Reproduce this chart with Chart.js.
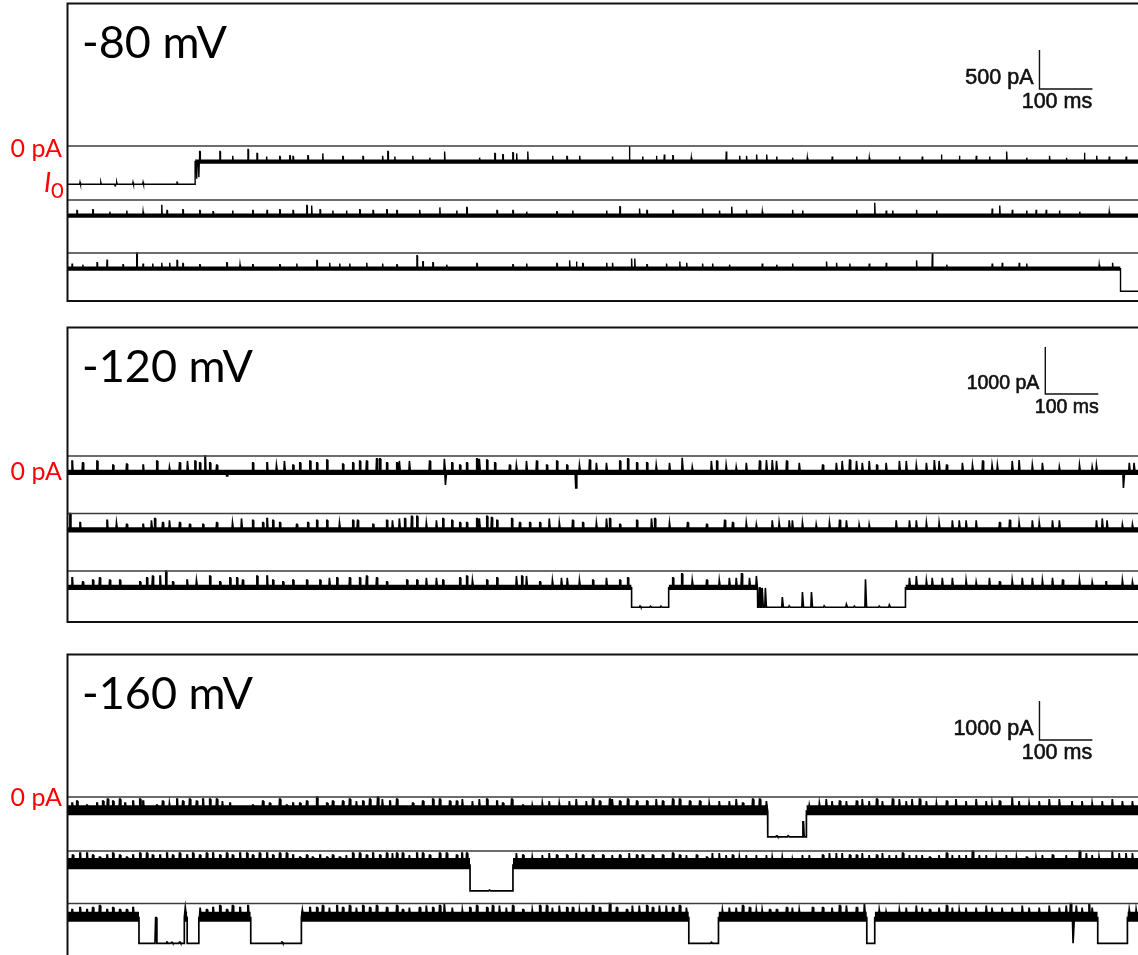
<!DOCTYPE html>
<html>
<head>
<meta charset="utf-8">
<title>Single-channel current traces</title>
<script src="https://cdn.jsdelivr.net/npm/chart.js@4.4.1/dist/chart.umd.min.js"></script>
<style>
  html, body { margin: 0; padding: 0; background: #fff; width: 1138px; height: 955px; overflow: hidden; }
  canvas.panel { position: absolute; left: 0; }
</style>
</head>
<body>
<canvas id="c80" class="panel"></canvas>
<canvas id="c120" class="panel"></canvas>
<canvas id="c160" class="panel"></canvas>
<script>
// ---------------------------------------------------------------
// Recorded sweeps: time in ms, current in pA.
// Segments are [start, end, level]; events are [time, peak current].
// ---------------------------------------------------------------
const voltages = ['-80 mV', '-120 mV', '-160 mV'];
const barCurrent = [500, 1000, 1000];   // pA
const barTime = [100, 100, 100];        // ms
const openPore = [-490, -770, -1020];   // I0 at each voltage, pA

// ----- -80 mV -----
const seg80a = [[0, 240, -490], [240, 2020, -200]];
const spk80a = [[23,-465],[62,-465],[89,-510],[92,-465],[123,-465],[142,-465],[206,-465],
  [243,-420],[247,-400],[249,-70],[287,-70],[311,-125],[340,-45],[357,-95],[375,-135],[400,-135],[419,-125],[425,-135],
  [453,-125],[481,-95],[519,-135],[557,-135],[594,-125],[604,-70],[617,-135],[651,-125],[683,-150],[711,-70],
  [777,-150],[806,-95],[821,-110],[840,-85],[847,-95],[868,-70],[915,-125],[942,-135],[966,-125],[1028,-135],
  [1060,0],[1085,-135],[1111,-125],[1126,-110],[1142,-125],[1177,-150],[1243,-70],[1268,-125],[1281,-125],
  [1300,-110],[1319,-110],[1338,-135],[1368,-150],[1396,-150],[1443,-135],[1489,-135],[1513,-150],[1570,-135],
  [1613,-135],[1649,-110],[1683,-125],[1715,-125],[1740,-135],[1772,-70],[1810,-150],[1853,-125],[1885,-150],
  [1919,-85],[1942,-125],[1966,-135],[1998,-135]];
const seg80b = [[0, 2020, -200]];
const spk80b = [[17,-135],[47,-125],[79,-150],[111,-135],[142,-150],[177,-60],[187,-135],[217,-125],[249,-135],
  [274,-150],[311,-135],[349,-135],[376,-125],[400,-125],[425,-135],[451,-70],[460,-70],[476,-125],[500,-135],
  [526,-135],[551,-125],[576,-135],[602,-125],[621,-135],[664,-125],[702,-95],[734,-135],[753,-95],[810,-135],
  [840,-135],[866,-150],[923,-150],[953,-135],[1017,-135],[1042,-85],[1079,-110],[1093,-135],[1142,-135],
  [1198,-110],[1230,-135],[1253,-85],[1281,-125],[1311,-150],[1368,-125],[1387,-135],[1489,-125],[1523,-35],
  [1545,-135],[1557,-135],[1602,-125],[1640,-135],[1745,-110],[1759,-70],[1783,-125],[1810,-135],[1828,-125],
  [1847,-125],[1872,-135],[1910,-150],[1966,-150]];
const seg80c = [[0, 1987, -200], [1987, 2020, -490]];
const spk80c = [[8,-135],[28,-150],[55,-125],[74,-85],[104,-150],[130,0],[142,-135],[160,-135],[177,-125],
  [192,-125],[206,-95],[217,-135],[249,-150],[300,-125],[325,-150],[349,-150],[400,-150],[432,-135],[470,-95],
  [494,-125],[513,-135],[532,-135],[564,-125],[594,-135],[621,-150],[659,-35],[670,-110],[689,-125],[715,-150],
  [772,-135],[840,-150],[866,-135],[923,-135],[947,-95],[960,-110],[972,-135],[1017,-125],[1028,-125],[1064,-70],
  [1070,-70],[1093,-150],[1130,-135],[1155,-110],[1168,-125],[1198,-135],[1217,-135],[1249,-150],[1311,-135],
  [1338,-150],[1368,-135],[1432,-110],[1451,-125],[1476,-135],[1513,-135],[1545,-125],[1602,-95],[1632,0],
  [1659,-150],[1745,-135],[1764,-125],[1796,-125],[1810,-135],[1947,-150],[1972,-125]];
const noise80 = [[26, 26], [26, 26], [26, 26]];   // noise band above / below level, pA

// ----- -120 mV -----
const seg120a = [[0, 2020, -360]];
const spk120a = [[8,-105],[28,-145],[55,-105],[85,-190],[111,-170],[142,-190],[168,-105],[192,-230],[211,-145],
  [226,-105],[240,-105],[249,-145],[259,0],[268,-145],[281,-190],[300,-425],[349,-145],[376,-145],[394,-190],
  [409,-105],[425,-190],[438,-145],[457,-105],[470,-145],[489,-85],[519,-170],[538,-145],[551,-105],[564,-105],
  [583,-60],[589,-60],[602,-145],[621,-145],[626,-105],[645,-105],[683,-105],[711,-60],[713,-615],[725,-145],
  [740,-190],[753,-145],[772,-60],[777,-60],[791,-85],[806,-145],[834,-190],[847,-190],[866,-105],[885,-105],
  [904,-190],[923,-105],[942,-190],[959,-680],[966,-190],[985,-85],[998,-145],[1017,-145],[1042,-105],[1057,-60],
  [1074,-145],[1093,-145],[1111,-190],[1136,-145],[1160,-40],[1179,-230],[1215,-105],[1225,-105],[1243,-190],
  [1262,-230],[1281,-145],[1306,-105],[1319,-85],[1330,-85],[1338,-105],[1357,-105],[1381,-145],[1425,-190],
  [1451,-145],[1462,-105],[1476,-85],[1489,-105],[1500,-145],[1513,-105],[1527,-190],[1545,-145],[1570,-105],
  [1583,-105],[1602,-190],[1621,-145],[1636,-85],[1645,-105],[1659,-190],[1689,-145],[1708,-190],[1727,-105],
  [1745,-190],[1755,-190],[1783,-105],[1796,-85],[1821,-190],[1840,-145],[1872,-230],[1910,-190],[1934,-230],
  [1942,-190],[1993,-680],[2004,-145],[2013,-145]];
const seg120b = [[0, 2020, -360]];
const spk120b = [[4,0],[23,-190],[74,-145],[92,-190],[111,-230],[142,-230],[158,-145],[164,-105],[179,-190],
  [192,-145],[211,-190],[230,-230],[255,-230],[281,-190],[311,-190],[328,-105],[349,-145],[368,-190],[376,-105],
  [387,-145],[400,-190],[432,-230],[453,-190],[470,-145],[489,-145],[513,-190],[538,-145],[547,-145],[576,-230],
  [602,-145],[613,-145],[626,-105],[636,-105],[649,-60],[659,-60],[677,-190],[696,-145],[708,-105],[725,-145],
  [740,-190],[753,-190],[772,-105],[777,-105],[791,-60],[800,-85],[810,-145],[838,-105],[853,-190],[872,-190],
  [891,-190],[909,-105],[928,-190],[953,-145],[972,-190],[998,-190],[1017,-105],[1023,-105],[1042,-230],
  [1074,-145],[1102,-105],[1108,-105],[1136,-190],[1170,-190],[1206,-230],[1240,-145],[1255,-190],[1281,-190],
  [1300,-230],[1330,-145],[1343,-190],[1362,-145],[1368,-145],[1387,-190],[1413,-230],[1438,-190],[1457,-145],
  [1470,-145],[1494,-230],[1513,-230],[1564,-145],[1589,-145],[1602,-145],[1621,-190],[1645,-190],[1670,-145],
  [1683,-145],[1696,-145],[1715,-145],[1759,-190],[1778,-145],[1796,-190],[1821,-145],[1834,-190],[1859,-145],
  [1872,-145],[1942,-145],[1953,-105],[1962,-145],[1991,-230],[2010,-230]];
const seg120c = [[0, 1064, -360], [1064, 1134, -770], [1134, 1302, -360], [1302, 1581, -770], [1581, 2020, -360]];
const spk120c = [[8,-145],[28,-230],[47,-190],[60,-145],[79,-190],[98,-190],[136,-230],[149,-145],[160,-105],
  [174,-105],[185,0],[198,-230],[225,-190],[243,-190],[268,-105],[287,-230],[306,-145],[319,-145],[330,-190],
  [357,-105],[376,-105],[387,-190],[406,-230],[425,-190],[451,-190],[476,-190],[494,-145],[508,-145],[532,-145],
  [551,-145],[564,-105],[583,-145],[602,-230],[640,-190],[659,-190],[677,-145],[696,-145],[708,-190],[740,-145],
  [753,-105],[764,-190],[791,-190],[810,-145],[847,-105],[857,-105],[866,-105],[891,-230],[915,-190],[932,-145],
  [943,-145],[966,-190],[991,-190],[1017,-145],[1042,-190],[1057,-145],[1080,-745],[1100,-750],[1120,-745],
  [1142,-145],[1159,-60],[1179,-190],[1206,-190],[1230,-190],[1249,-145],[1262,-145],[1272,-60],[1287,-145],
  [1300,-105],[1306,-360],[1311,-360],[1317,-360],[1349,-555],[1362,-740],[1387,-450],[1404,-450],[1428,-740],
  [1470,-705],[1485,-745],[1506,-175],[1532,-745],[1551,-720],[1589,-145],[1602,-105],[1621,-190],[1632,-145],
  [1651,-145],[1670,-145],[1696,-190],[1715,-230],[1740,-145],[1759,-230],[1783,-190],[1802,-145],[1821,-145],
  [1840,-190],[1859,-145],[1878,-190],[1910,-190],[1934,-230],[1960,-230],[1991,-190],[2010,-230]];
const noise120 = [[70, 45], [70, 45], [70, 45]];

// ----- -160 mV -----
const seg160a = [[0, 1321, -360], [1321, 1394, -1020], [1394, 2020, -360]];
const spk160a = [[8,-155],[17,-105],[36,-205],[55,-155],[66,-105],[75,-55],[85,-105],[98,-55],[108,-155],
  [123,-105],[136,-55],[142,-105],[168,-205],[179,-105],[192,-155],[206,-55],[217,-105],[230,-55],[243,-105],
  [255,-55],[268,-55],[281,-55],[292,-105],[306,-155],[325,-255],[349,-205],[368,-105],[381,-155],[400,-55],
  [413,-205],[425,-155],[438,-155],[451,-105],[470,0],[489,-155],[500,-105],[519,-105],[532,-55],[545,-105],
  [557,-105],[570,-55],[585,0],[594,-55],[608,-105],[621,-55],[651,-155],[670,-105],[689,-55],[702,-55],
  [721,-105],[734,-105],[745,-55],[764,-105],[777,-55],[791,-55],[810,-105],[821,-155],[838,-55],[859,-205],
  [877,-205],[896,-155],[909,-105],[928,-155],[947,-105],[960,-55],[979,-105],[991,-55],[1004,-105],[1023,-55],
  [1028,-55],[1042,-105],[1057,-55],[1074,-105],[1093,-105],[1111,-55],[1123,-105],[1142,-55],[1155,-55],
  [1174,-105],[1193,-105],[1211,-155],[1230,-105],[1249,-105],[1262,-55],[1274,-155],[1293,-55],[1306,-55],
  [1319,-105],[1338,-995],[1360,-995],[1388,-640],[1400,-205],[1419,-155],[1432,-55],[1443,-105],[1457,-105],
  [1470,-105],[1489,-105],[1500,-55],[1513,-105],[1527,-55],[1538,-105],[1557,-55],[1570,-55],[1583,-105],
  [1594,-55],[1608,-55],[1621,-105],[1640,-155],[1659,-105],[1677,-55],[1696,-105],[1715,-55],[1734,-105],
  [1745,-155],[1759,-105],[1783,0],[1796,-105],[1815,-155],[1834,-105],[1853,-55],[1872,-55],[1896,-105],
  [1915,-105],[1934,-155],[1953,-105],[1972,-55],[1991,-105],[2010,-105]];
const seg160b = [[0, 759, -360], [759, 840, -1020], [840, 2020, -360]];
const spk160b = [[9,-105],[23,-55],[36,-55],[47,-105],[60,-155],[74,-105],[85,-55],[98,-105],[111,-155],
  [123,-105],[136,-55],[149,-55],[160,-105],[174,-105],[187,-55],[198,-105],[211,-55],[225,-105],[236,-55],
  [249,-105],[262,-55],[274,-55],[287,-105],[300,-55],[311,-105],[325,-55],[338,-55],[349,-105],[362,-55],
  [376,-55],[387,-105],[400,-55],[413,-55],[425,-105],[438,-155],[451,-105],[462,-155],[476,-105],[489,-155],
  [500,-105],[513,-155],[526,-105],[538,-55],[551,-55],[564,-105],[576,-55],[589,-105],[602,-55],[613,-55],
  [621,-55],[632,-55],[645,-105],[659,-55],[670,-55],[683,-105],[702,-55],[715,-55],[734,-105],[744,-55],
  [753,-55],[796,-1000],[847,-55],[859,-105],[877,-155],[896,-105],[909,-55],[923,-105],[942,-105],[960,-55],
  [972,-105],[991,-105],[1010,-105],[1028,-105],[1042,-105],[1060,-55],[1074,-105],[1085,-105],[1104,-105],
  [1123,-105],[1142,-55],[1155,-105],[1168,-105],[1187,-105],[1206,-155],[1217,-55],[1230,-55],[1243,-105],
  [1255,-105],[1268,-155],[1281,-105],[1300,-105],[1319,-105],[1330,-155],[1349,-155],[1368,-205],[1387,-105],
  [1400,-105],[1425,-105],[1438,-55],[1451,-55],[1462,-55],[1476,-105],[1489,-105],[1500,-55],[1513,-105],
  [1527,-105],[1538,-55],[1551,-105],[1564,-105],[1576,-55],[1589,-105],[1602,-105],[1613,-105],[1627,-155],
  [1645,-105],[1659,-55],[1670,-105],[1683,-105],[1696,-105],[1708,0],[1721,-105],[1734,-105],[1753,-155],
  [1772,-105],[1791,-155],[1810,-155],[1828,-155],[1840,-105],[1859,-105],[1885,-105],[1910,0],[1923,-55],
  [1934,-105],[1947,-155],[1972,0],[1985,-55],[1998,-55],[2010,-55]];
const seg160c = [[0, 134, -360], [134, 219, -1020], [219, 225, -360], [225, 247, -1020], [247, 345, -360],
  [345, 440, -1020], [440, 1172, -360], [1172, 1228, -1020], [1228, 1508, -360], [1508, 1523, -1020],
  [1523, 1944, -360], [1944, 2000, -1020], [2000, 2020, -360]];
const spk160c = [[8,-155],[23,-105],[36,-155],[47,-105],[60,-55],[74,-155],[85,-105],[98,-155],[111,-155],
  [123,-105],[166,-360],[187,-990],[196,-995],[211,-990],[222,-100],[250,-105],[262,-155],[274,-105],[287,-55],
  [300,-155],[311,-55],[325,-105],[340,-55],[404,-990],[443,-155],[457,-105],[470,-105],[481,-55],[494,-105],
  [508,-55],[519,-105],[532,-55],[545,-105],[557,-55],[570,-105],[583,-55],[602,-105],[621,-55],[632,-155],
  [645,-105],[664,-105],[677,-55],[689,-105],[702,-55],[711,0],[726,-105],[745,-155],[759,-105],[772,-55],
  [791,-105],[802,-55],[815,-55],[828,-105],[840,-55],[859,-155],[877,-155],[891,-55],[904,-55],[915,-105],
  [928,-55],[942,-105],[953,-105],[966,-155],[979,-105],[991,-55],[1004,-105],[1023,0],[1036,-105],[1055,-155],
  [1066,-55],[1079,-55],[1093,-55],[1104,-105],[1117,-55],[1130,-55],[1142,-105],[1155,-55],[1168,-105],
  [1215,-995],[1236,-155],[1249,-105],[1262,-105],[1274,-55],[1287,-105],[1300,-155],[1311,-155],[1325,-155],
  [1338,-155],[1357,-105],[1368,-105],[1381,-155],[1406,-105],[1425,-105],[1443,-105],[1457,-55],[1470,-55],
  [1489,-105],[1504,0],[1532,-155],[1545,-205],[1570,-155],[1583,-105],[1602,-55],[1613,-105],[1627,-155],
  [1645,-105],[1659,-55],[1670,-105],[1683,-155],[1696,-105],[1715,-105],[1734,-55],[1745,-105],[1764,-105],
  [1783,-105],[1802,-55],[1815,-105],[1834,-105],[1853,-55],[1872,-105],[1885,-55],[1893,0],[1898,-1020],
  [1904,-55],[1915,-105],[1928,-30],[1934,-105],[2004,-155],[2017,-155]];
const noise160 = [[150, 110], [180, 110], [150, 110]];

// ---------------------------------------------------------------
// Page layout (pixels)
// ---------------------------------------------------------------
const X_MAX = 2020; // ms shown across each sweep
const panels = [
  { canvas: 'c80', title: voltages[0], i0: openPore[0], noise: noise80,
    traces: [[seg80a, spk80a], [seg80b, spk80b], [seg80c, spk80c]],
    canvasTop: 0, canvasH: 312, boxTop: 3, boxBottom: 301, closed: true,
    pAperPx: 500 / 39, rowsPx: [146, 200, 253], lineW: 1.4, needle: 0.9,
    bar: { pA: barCurrent[0], ms: barTime[0], t: 1834, i: 730, font: 21.5, msDx: -9 },
    zeroDy: 10.5, showI0: true },
  { canvas: 'c120', title: voltages[1], i0: openPore[1], noise: noise120,
    traces: [[seg120a, spk120a], [seg120b, spk120b], [seg120c, spk120c]],
    canvasTop: 314, canvasH: 316, boxTop: 327, boxBottom: 622, closed: true,
    pAperPx: 1000 / 47, rowsPx: [456, 513.5, 571], lineW: 1.6, needle: 1.6,
    bar: { pA: barCurrent[1], ms: barTime[1], t: 1845, i: 1319, font: 19.5, msDx: -5 },
    zeroDy: 23.5, showI0: false },
  { canvas: 'c160', title: voltages[2], i0: openPore[2], noise: noise160,
    traces: [[seg160a, spk160a], [seg160b, spk160b], [seg160c, spk160c]],
    canvasTop: 641, canvasH: 314, boxTop: 654, boxBottom: 955, closed: false,
    pAperPx: 1000 / 39, rowsPx: [797, 851, 903.5], lineW: 1.7, needle: 1.8,
    bar: { pA: barCurrent[2], ms: barTime[2], t: 1834, i: 1461, font: 21.5, msDx: -9 },
    zeroDy: 8.5, showI0: false }
];

// Polyline of one sweep: level segments joined by vertical steps, brief events as narrow pulses.
function sweepPoints(segs, spikes, off, w) {
  const ev = spikes.slice().sort((a, b) => a[0] - b[0]);
  const pts = [];
  for (const [t0, t1, lvl] of segs) {
    pts.push({ x: t0, y: lvl + off });
    for (const [t, peak] of ev) {
      if (t > t0 && t < t1) {
        pts.push({ x: t - w, y: lvl + off }, { x: t - w * 0.3, y: peak + off },
                 { x: t + w * 0.3, y: peak + off }, { x: t + w, y: lvl + off });
      }
    }
    pts.push({ x: t1, y: lvl + off });
  }
  return pts;
}

// Frame, voltage title, red current labels and the calibration bar.
const panelDecor = {
  id: 'panelDecor',
  afterDraw(chart, args, o) {
    const { ctx, chartArea: a } = chart;
    const xs = chart.scales.x, ys = chart.scales.y;
    ctx.save();
    ctx.strokeStyle = '#111';
    ctx.lineWidth = 2;
    ctx.beginPath();
    ctx.moveTo(a.right + 6, a.top + 0.5);
    ctx.lineTo(a.left - 0.5, a.top + 0.5);
    ctx.lineTo(a.left - 0.5, a.bottom + (o.closed ? 0 : 6));
    if (o.closed) ctx.lineTo(a.right + 6, a.bottom);
    ctx.stroke();

    ctx.fillStyle = '#000';
    ctx.textAlign = 'left';
    ctx.textBaseline = 'alphabetic';
    ctx.font = '45px Lato';
    ctx.fillText(o.title, 82, a.top + 55);

    const y0 = ys.getPixelForValue(0);
    ctx.fillStyle = '#ff0000';
    ctx.textAlign = 'right';
    ctx.font = '25px Lato';
    ctx.fillText('0 pA', 62, y0 + o.zeroDy);
    if (o.showI0) {
      const yi = ys.getPixelForValue(o.i0);
      ctx.textAlign = 'left';
      ctx.font = 'italic 27px Lato';
      ctx.fillText('I', 44, yi + 8);
      ctx.font = '22px Lato';
      ctx.fillText('0', 51, yi + 14);
    }

    const b = o.bar;
    const bx = xs.getPixelForValue(b.t), by = ys.getPixelForValue(b.i);
    const bTop = ys.getPixelForValue(b.i + b.pA), bRight = xs.getPixelForValue(b.t + b.ms);
    ctx.strokeStyle = '#111';
    ctx.lineWidth = 1.4;
    ctx.beginPath();
    ctx.moveTo(bx, bTop);
    ctx.lineTo(bx, by);
    ctx.lineTo(bRight, by);
    ctx.stroke();
    ctx.fillStyle = '#111';
    ctx.lineWidth = 0.6;
    ctx.font = b.font + 'px "Liberation Sans"';
    ctx.textAlign = 'right';
    ctx.fillText(b.pA + ' pA', bx - 6, by - 5);
    ctx.strokeText(b.pA + ' pA', bx - 6, by - 5);
    ctx.textAlign = 'center';
    ctx.fillText(b.ms + ' ms', (bx + bRight) / 2 + b.msDx, by + 19);
    ctx.strokeText(b.ms + ' ms', (bx + bRight) / 2 + b.msDx, by + 19);
    ctx.restore();
  }
};

for (const p of panels) {
  const cv = document.getElementById(p.canvas);
  cv.width = 1138;
  cv.height = p.canvasH;
  cv.style.top = p.canvasTop + 'px';
  const yMax = (p.rowsPx[0] - p.boxTop) * p.pAperPx;
  const yMin = yMax - (p.boxBottom - p.boxTop) * p.pAperPx;
  const offs = p.rowsPx.map(r => -(r - p.rowsPx[0]) * p.pAperPx);

  const datasets = [];
  p.traces.forEach(([segs, spikes], r) => {
    const off = offs[r];
    // zero-current reference
    datasets.push({ data: [{ x: 0, y: off }, { x: X_MAX, y: off }],
      borderColor: '#3c3c3c', borderWidth: 1.3, fill: false });
    // open-channel noise band on blocked-level stretches
    const [hi, lo] = p.noise[r];
    for (const [t0, t1, lvl] of segs) {
      if (lvl === p.i0) continue;
      datasets.push({ data: [{ x: t0, y: lvl + hi + off }, { x: t1, y: lvl + hi + off }],
        borderColor: 'transparent', borderWidth: 0, backgroundColor: '#000', fill: '+1' });
      datasets.push({ data: [{ x: t0, y: lvl - lo + off }, { x: t1, y: lvl - lo + off }],
        borderColor: 'transparent', borderWidth: 0, backgroundColor: 'transparent', fill: false });
    }
    // the sweep itself
    datasets.push({ data: sweepPoints(segs, spikes, off, p.needle), borderColor: '#000',
      borderWidth: p.lineW, fill: false });
  });

  new Chart(cv, {
    type: 'line',
    data: { datasets },
    options: {
      responsive: false,
      animation: false,
      devicePixelRatio: 1,
      events: [],
      layout: { padding: { left: 68, right: 0, top: p.boxTop - p.canvasTop,
                           bottom: p.canvasTop + p.canvasH - p.boxBottom } },
      scales: {
        x: { type: 'linear', min: 0, max: X_MAX, display: false },
        y: { type: 'linear', min: yMin, max: yMax, display: false }
      },
      elements: { point: { radius: 0 }, line: { tension: 0 } },
      plugins: {
        legend: { display: false },
        tooltip: { enabled: false },
        colors: { enabled: false },
        panelDecor: { title: p.title, closed: p.closed, zeroDy: p.zeroDy, showI0: p.showI0,
                      i0: p.i0, bar: p.bar }
      }
    },
    plugins: [panelDecor]
  });
}
</script>
</body>
</html>
